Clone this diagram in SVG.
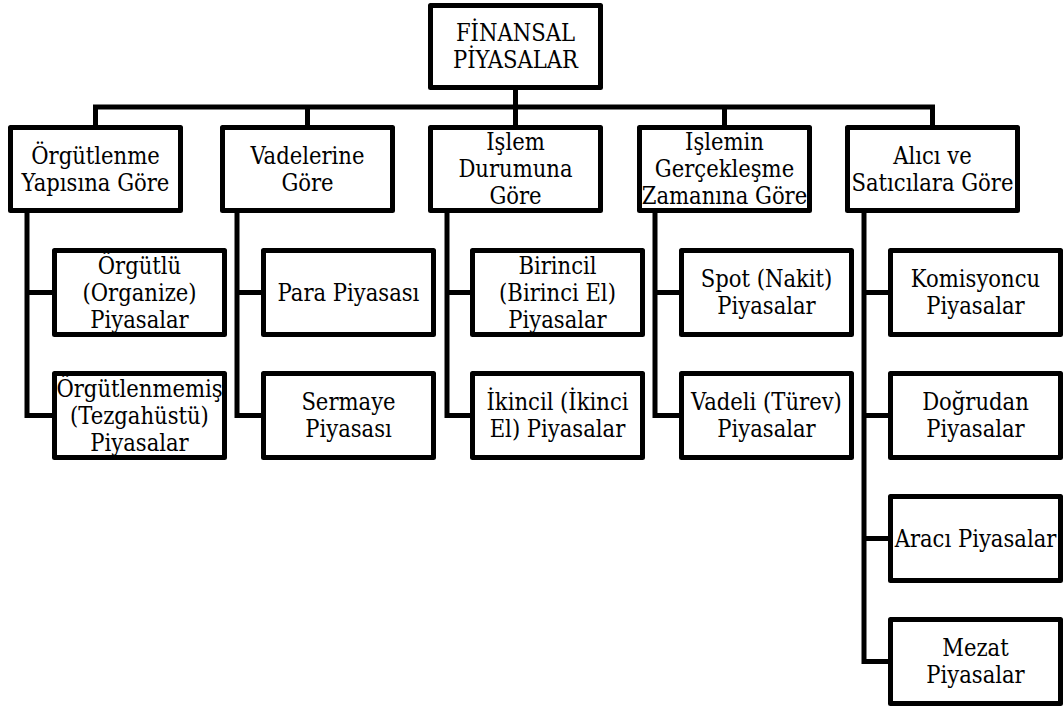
<svg xmlns="http://www.w3.org/2000/svg" width="1064" height="709" viewBox="0 0 1064 709">
<style>
  .box { fill: #ffffff; stroke: #000000; stroke-width: 5; stroke-linejoin: round; }
  .con { fill: none; stroke: #000000; stroke-width: 5; stroke-linejoin: miter; stroke-linecap: butt; }
  text { font-family: 'DejaVu Serif Condensed', 'DejaVu Serif', 'Liberation Serif', serif; font-stretch: condensed; font-size: 23.5px; fill: #000000; text-anchor: middle; }
</style>
<rect x="0" y="0" width="1064" height="709" fill="#ffffff"/>

<g id="connectors">
  <path class="con" d="M515.5 90 V107"/>
  <path class="con" d="M95.5 125 V107 H932.5 V125"/>
  <path class="con" d="M307.5 107 V125"/>
  <path class="con" d="M515.5 107 V125"/>
  <path class="con" d="M724.5 107 V125"/>
  <path class="con" d="M27 213 V415.5 H52"/>
  <path class="con" d="M27 292.5 H52"/>
  <path class="con" d="M237 213 V415.5 H261"/>
  <path class="con" d="M237 292.5 H261"/>
  <path class="con" d="M447 213 V415.5 H470"/>
  <path class="con" d="M447 292.5 H470"/>
  <path class="con" d="M655 213 V415.5 H679"/>
  <path class="con" d="M655 292.5 H679"/>
  <path class="con" d="M864 213 V661.5 H888"/>
  <path class="con" d="M864 292.5 H888"/>
  <path class="con" d="M864 415.5 H888"/>
  <path class="con" d="M864 538.5 H888"/>
</g>

<g id="root">
  <rect class="box" x="430.5" y="5.5" width="170" height="82"/>
  <text x="515.5" y="41">FİNANSAL</text>
  <text x="515.5" y="68">PİYASALAR</text>
</g>

<g id="orgutlenme">
  <rect class="box" x="10.5" y="127.5" width="170" height="83"/>
  <text x="95.5" y="163.5">Örgütlenme</text>
  <text x="95.5" y="190.5">Yapısına Göre</text>
</g>
<g id="vadelerine">
  <rect class="box" x="222.5" y="127.5" width="170" height="83"/>
  <text x="307.5" y="163.5">Vadelerine</text>
  <text x="307.5" y="190.5">Göre</text>
</g>
<g id="islem-durumuna">
  <rect class="box" x="430.5" y="127.5" width="170" height="83"/>
  <text x="515.5" y="150">İşlem</text>
  <text x="515.5" y="177">Durumuna</text>
  <text x="515.5" y="204">Göre</text>
</g>
<g id="islemin-zamanina">
  <rect class="box" x="639.5" y="127.5" width="170" height="83"/>
  <text x="724.5" y="150">İşlemin</text>
  <text x="724.5" y="177">Gerçekleşme</text>
  <text x="724.5" y="204">Zamanına Göre</text>
</g>
<g id="alici-satici">
  <rect class="box" x="847.5" y="127.5" width="170" height="83"/>
  <text x="932.5" y="163.5">Alıcı ve</text>
  <text x="932.5" y="190.5">Satıcılara Göre</text>
</g>

<g id="orgutlu">
  <rect class="box" x="54.5" y="250.5" width="170" height="84"/>
  <text x="139.5" y="273.5">Örgütlü</text>
  <text x="139.5" y="300.5">(Organize)</text>
  <text x="139.5" y="327.5">Piyasalar</text>
</g>
<g id="orgutlenmemis">
  <rect class="box" x="54.5" y="373.5" width="170" height="84"/>
  <text x="139.5" y="396.5">Örgütlenmemiş</text>
  <text x="139.5" y="423.5">(Tezgahüstü)</text>
  <text x="139.5" y="450.5">Piyasalar</text>
</g>

<g id="para">
  <rect class="box" x="263.5" y="250.5" width="170" height="84"/>
  <text x="348.5" y="300.5">Para Piyasası</text>
</g>
<g id="sermaye">
  <rect class="box" x="263.5" y="373.5" width="170" height="84"/>
  <text x="348.5" y="410">Sermaye</text>
  <text x="348.5" y="437">Piyasası</text>
</g>

<g id="birincil">
  <rect class="box" x="472.5" y="250.5" width="170" height="84"/>
  <text x="557.5" y="273.5">Birincil</text>
  <text x="557.5" y="300.5">(Birinci El)</text>
  <text x="557.5" y="327.5">Piyasalar</text>
</g>
<g id="ikincil">
  <rect class="box" x="472.5" y="373.5" width="170" height="84"/>
  <text x="557.5" y="410">İkincil (İkinci</text>
  <text x="557.5" y="437">El) Piyasalar</text>
</g>

<g id="spot">
  <rect class="box" x="681.5" y="250.5" width="170" height="84"/>
  <text x="766.5" y="287">Spot (Nakit)</text>
  <text x="766.5" y="314">Piyasalar</text>
</g>
<g id="vadeli">
  <rect class="box" x="681.5" y="373.5" width="170" height="84"/>
  <text x="766.5" y="410">Vadeli (Türev)</text>
  <text x="766.5" y="437">Piyasalar</text>
</g>

<g id="komisyoncu">
  <rect class="box" x="890.5" y="250.5" width="170" height="84"/>
  <text x="975.5" y="287">Komisyoncu</text>
  <text x="975.5" y="314">Piyasalar</text>
</g>
<g id="dogrudan">
  <rect class="box" x="890.5" y="373.5" width="170" height="84"/>
  <text x="975.5" y="410">Doğrudan</text>
  <text x="975.5" y="437">Piyasalar</text>
</g>
<g id="araci">
  <rect class="box" x="890.5" y="496.5" width="170" height="84"/>
  <text x="975.5" y="546.5">Aracı Piyasalar</text>
</g>
<g id="mezat">
  <rect class="box" x="890.5" y="619.5" width="170" height="84"/>
  <text x="975.5" y="656">Mezat</text>
  <text x="975.5" y="683">Piyasalar</text>
</g>
</svg>
